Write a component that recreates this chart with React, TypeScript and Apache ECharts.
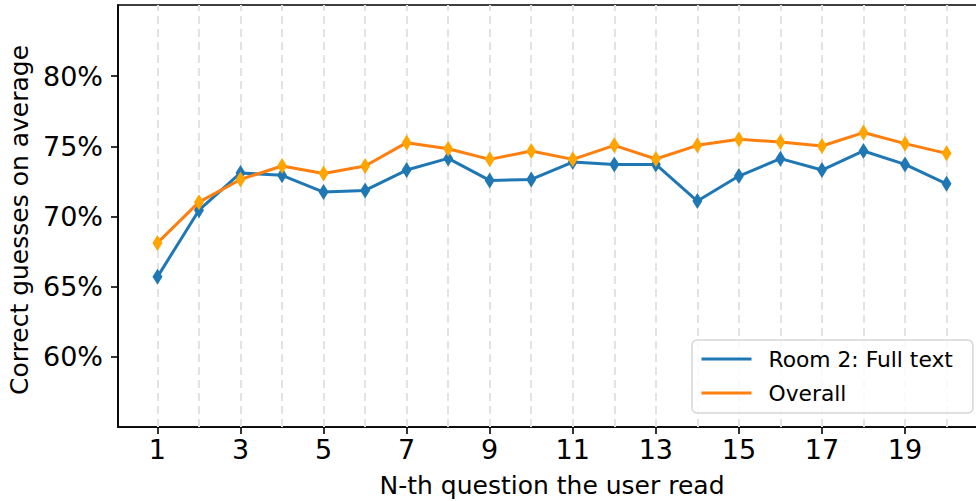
import React, { useEffect, useRef } from "react";
import * as echarts from "echarts";

const questions = [1, 2, 3, 4, 5, 6, 7, 8, 9, 10, 11, 12, 13, 14, 15, 16, 17, 18, 19, 20];
const room2 = [65.7, 70.45, 73.1, 72.93, 71.74, 71.86, 73.31, 74.14, 72.57, 72.64, 73.88, 73.71, 73.71, 71.1, 72.88, 74.12, 73.31, 74.67, 73.71, 72.33];
const overall = [68.12, 71.02, 72.64, 73.6, 73.07, 73.6, 75.26, 74.83, 74.07, 74.67, 74.07, 75.07, 74.1, 75.07, 75.5, 75.31, 75.02, 75.98, 75.19, 74.5];
const xTickLabels = [1, 3, 5, 7, 9, 11, 13, 15, 17, 19];
const yTickLabels = [60, 65, 70, 75, 80];
const seriesNames = ["Room 2: Full text", "Overall"];

const FONT = "DejaVu Sans";

export default function App() {
  const ref = useRef<HTMLDivElement>(null);
  useEffect(() => {
    if (!ref.current) return;
    const chart = echarts.init(ref.current, undefined, { renderer: "svg" });
    const pts = (ys: number[]) => questions.map((q, i) => [q, ys[i]]);
    chart.setOption({
      animation: false,
      backgroundColor: "#ffffff",
      grid: {
        left: 118,
        right: -10,
        top: 5,
        bottom: 74,
        show: true,
        containLabel: false,
        outerBoundsMode: "none",
        borderColor: "#000000",
        borderWidth: 1.6,
        backgroundColor: "transparent",
      },
      legend: {
        orient: "vertical",
        left: 692,
        top: 340,
        data: seriesNames,
        itemWidth: 50,
        itemHeight: 14,
        itemGap: 12,
        padding: [8, 20, 9, 8],
        borderColor: "#d6d6d6",
        borderWidth: 1.5,
        borderRadius: 5,
        backgroundColor: "rgba(255,255,255,0.8)",
        z: 20,
        itemStyle: { opacity: 0 },
        lineStyle: { width: 3 },
        textStyle: {
          fontFamily: FONT,
          fontSize: 21.8,
          color: "#000000",
          padding: [0, 0, 0, 12],
          lineHeight: 22,
        },
      },
      xAxis: {
        type: "value",
        min: 0.05,
        max: 20.95,
        name: "N-th question the user read",
        nameLocation: "middle",
        nameGap: 46,
        nameTextStyle: { fontFamily: FONT, fontSize: 25, color: "#000000" },
        axisLine: { show: true, lineStyle: { color: "#000000", width: 1.6 } },
        axisTick: {
          show: true,
          length: 7,
          lineStyle: { color: "#000000", width: 1.6 },
          customValues: xTickLabels,
        },
        axisLabel: {
          fontFamily: FONT,
          fontSize: 27,
          color: "#000000",
          margin: 9,
          customValues: xTickLabels,
        },
        splitLine: { show: false },
      },
      yAxis: {
        type: "value",
        min: 55,
        max: 85.07,
        name: "Correct guesses on average",
        nameLocation: "middle",
        nameGap: 81,
        nameTextStyle: {
          fontFamily: FONT,
          fontSize: 25,
          color: "#000000",
          padding: [0, 8, 0, 0],
        },
        axisLine: { show: true, lineStyle: { color: "#000000", width: 1.6 } },
        axisTick: {
          show: true,
          length: 7,
          lineStyle: { color: "#000000", width: 1.6 },
          customValues: yTickLabels,
        },
        axisLabel: {
          fontFamily: FONT,
          fontSize: 27,
          color: "#000000",
          margin: 15,
          customValues: yTickLabels,
          formatter: (v: number) => `${Math.round(v)}%`,
        },
        splitLine: { show: false },
      },
      series: [
        {
          type: "line",
          name: "__grid",
          data: [],
          z: 1,
          silent: true,
          markLine: {
            z: 1,
            silent: true,
            symbol: ["none", "none"],
            label: { show: false },
            emphasis: { disabled: true },
            lineStyle: { color: "#e3e3e3", type: [8, 5], width: 2 },
            data: questions.map((q) => ({ xAxis: q })),
          },
        },
        {
          type: "line",
          name: seriesNames[0],
          data: pts(room2),
          showSymbol: false,
          symbol: "none",
          lineStyle: { color: "#1f77b4", width: 3 },
          itemStyle: { color: "#1f77b4" },
          z: 3,
        },
        {
          type: "scatter",
          name: "room2-markers",
          data: pts(room2),
          symbol: "diamond",
          symbolSize: [10, 16],
          itemStyle: { color: "#1f77b4", opacity: 1 },
          z: 4,
        },
        {
          type: "line",
          name: seriesNames[1],
          data: pts(overall),
          showSymbol: false,
          symbol: "none",
          lineStyle: { color: "#ff7f0e", width: 3 },
          itemStyle: { color: "#ff7f0e" },
          z: 5,
        },
        {
          type: "scatter",
          name: "overall-markers",
          data: pts(overall),
          symbol: "diamond",
          symbolSize: [10, 16],
          itemStyle: { color: "#ffa500", opacity: 1 },
          z: 6,
        },
      ],
    });
    return () => chart.dispose();
  }, []);
  return (
    <div
      ref={ref}
      style={{ position: "fixed", left: 0, top: 0, width: 976, height: 501 }}
    />
  );
}
